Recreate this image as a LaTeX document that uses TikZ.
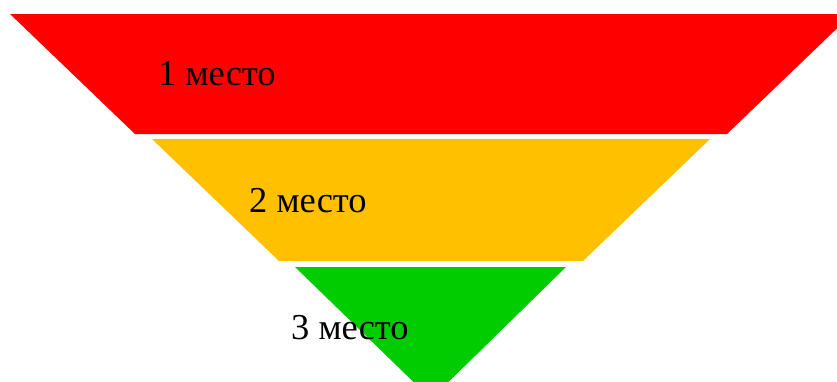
\documentclass[tikz,border=0pt]{standalone}
\usepackage{fontspec}
\setmainfont{Liberation Serif}
\definecolor{lvlred}{HTML}{FF0000}
\definecolor{lvlyellow}{HTML}{FFC000}
\definecolor{lvlgreen}{HTML}{00CC00}
\begin{document}
\begin{tikzpicture}[x=1pt,y=-1pt,
  lbl/.style={inner sep=0pt,anchor=base west,font=\fontsize{36.5}{42}\selectfont,text=black}]
\useasboundingbox (0,0) rectangle (837,381);
\clip (0,0) rectangle (837,381);
\fill[lvlred] (10,14) -- (852,14) -- (727,134) -- (135,134) -- cycle;
\fill[lvlyellow] (152,139) -- (710,139) -- (583,261) -- (279,261) -- cycle;
\fill[lvlgreen] (295,267) -- (566,267) -- (431,399) -- cycle;
\node[lbl] (t1) at (158,85) {1 место};
\node[lbl] (t2) at (249,212) {2 место};
\node[lbl] (t3) at (291,339) {3 место};
\end{tikzpicture}
\end{document}
